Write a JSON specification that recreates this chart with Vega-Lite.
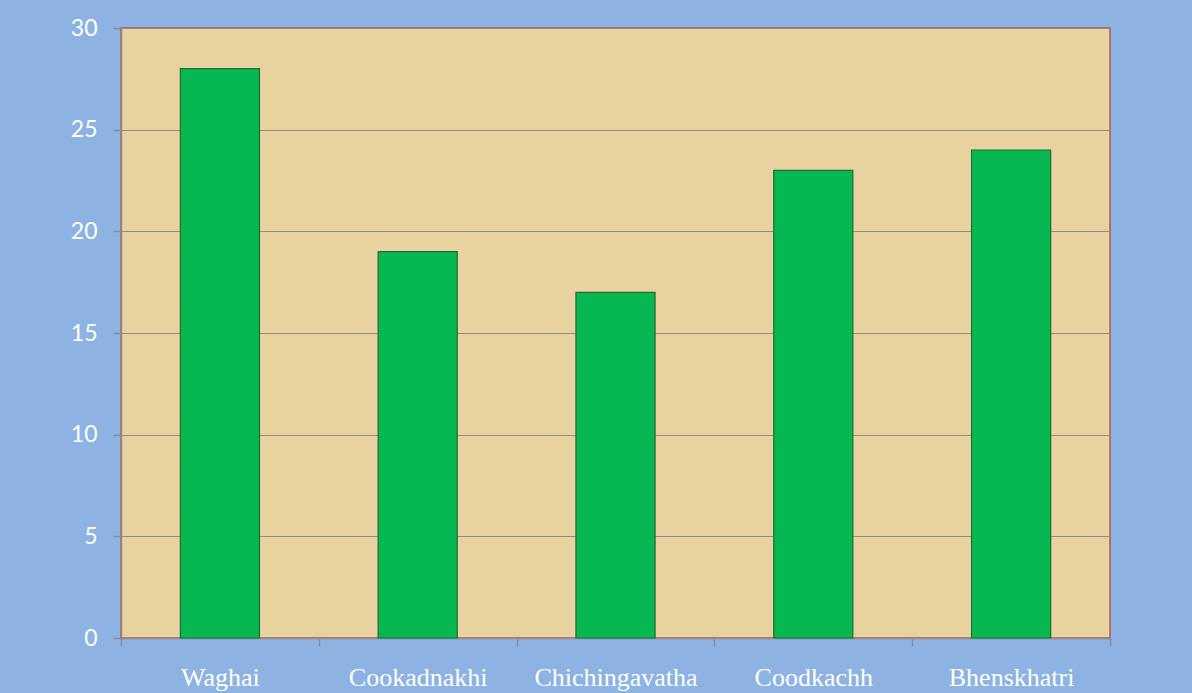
{
  "$schema": "https://vega.github.io/schema/vega-lite/v6.json",
  "width": 989,
  "height": 610,
  "autosize": {"type": "none"},
  "padding": {"left": 121, "top": 28, "right": 82, "bottom": 55},
  "background": "#8DB3E2",
  "data": {
    "values": [
      {"place": "Waghai", "value": 28},
      {"place": "Cookadnakhi", "value": 19},
      {"place": "Chichingavatha", "value": 17},
      {"place": "Coodkachh", "value": 23},
      {"place": "Bhenskhatri", "value": 24}
    ]
  },
  "mark": {"type": "bar", "color": "#07B852", "stroke": "#1F6B34", "strokeWidth": 1.2, "width": {"band": 0.4}},
  "encoding": {
    "x": {
      "field": "place",
      "type": "nominal",
      "sort": null,
      "scale": {"paddingInner": 0, "paddingOuter": 0},
      "axis": {
        "title": null,
        "labelAngle": 0,
        "labelFont": "Liberation Serif",
        "labelFontSize": 26,
        "labelColor": "#FFFFFF",
        "labelPadding": 18,
        "tickBand": "extent",
        "tickSize": 8,
        "tickColor": "#8C8C8C",
        "domainColor": "#8C8C8C",
        "tickWidth": 1.5,
        "domainWidth": 1.5
      }
    },
    "y": {
      "field": "value",
      "type": "quantitative",
      "scale": {"domain": [0, 30]},
      "axis": {
        "title": null,
        "values": [0, 5, 10, 15, 20, 25, 30],
        "labelFont": "Lato",
        "labelFontSize": 23,
        "labelColor": "#FFFFFF",
        "labelPadding": 16,
        "tickSize": 8,
        "tickColor": "#8C8C8C",
        "domainColor": "#8C8C8C",
        "tickWidth": 1.5,
        "domainWidth": 1.5,
        "grid": true,
        "gridColor": "#8C8C8C",
        "gridWidth": 1.2
      }
    }
  },
  "config": {
    "view": {"fill": "#E8D2A0", "stroke": "#C0504D", "strokeWidth": 1.5}
  }
}
